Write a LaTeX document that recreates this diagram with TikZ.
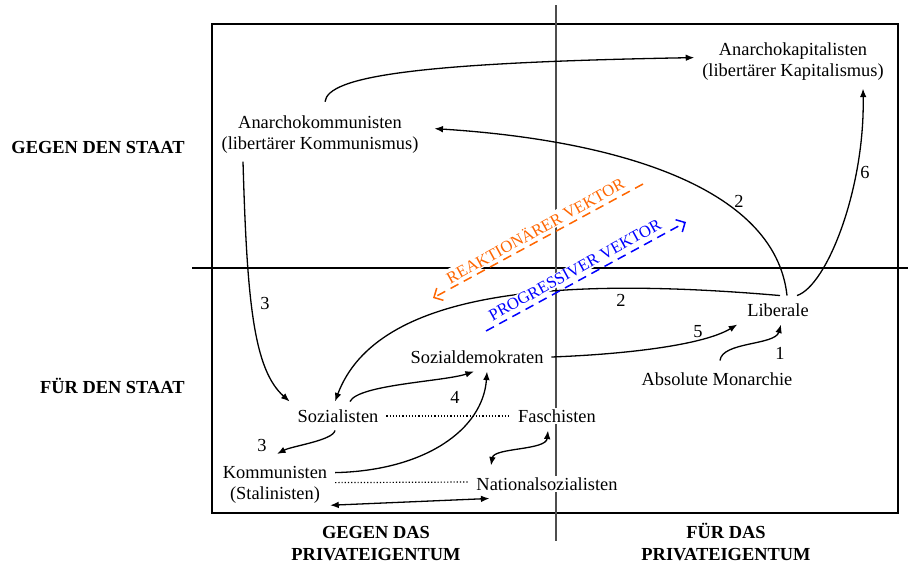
\documentclass[tikz,border=0pt]{standalone}
\usepackage{fontspec}
\setmainfont{Liberation Serif}
\usetikzlibrary{arrows.meta, calc}
\definecolor{cInk}{HTML}{000000}
\definecolor{cAxis}{HTML}{4D4D4D}
\definecolor{cReak}{HTML}{FF6600}
\definecolor{cProg}{HTML}{0000FF}
\pgfdeclarelayer{back}
\pgfsetlayers{back,main}
\newcommand{\pfont}{\fontsize{9.2}{10.6}\selectfont}
\tikzset{
  party/.style={font=\pfont, align=center, fill=white, inner sep=1pt, outer sep=3pt, text=cInk},
  axlab/.style={font=\pfont\bfseries, align=center, inner sep=1pt, text=cInk},
  num/.style={font=\pfont, inner sep=0pt, text=cInk},
  vlab/.style={font=\fontsize{8.3}{9}\selectfont, fill=white, inner sep=0.5pt},
  arr/.style={-{Latex[length=4.3pt, width=3.3pt]}, line width=0.65pt, draw=cInk},
  arrs/.style={{Latex[length=4.3pt, width=3.3pt]}-{Latex[length=4.3pt, width=3.3pt]}, line width=0.65pt, draw=cInk},
  link/.style={densely dotted, line width=0.6pt, draw=cInk},
  vec/.style={-{Straight Barb[length=3.5pt, width=7pt]}, dash pattern=on 4.5pt off 3pt, line width=0.75pt},
}

\begin{document}
\begin{tikzpicture}[x=0.5pt, y=-0.5pt]
  \useasboundingbox (0,0) rectangle (909,564);
  % ---- frame and axes
  \begin{pgfonlayer}{back}
    \draw[line width=0.55pt, draw=cInk] (212,24) rectangle (898,513);
    \draw[line width=0.55pt, draw=cInk] (192,268) -- (908,268);
    \draw[line width=0.7pt, draw=cAxis] (556,5) -- (556,541);
  \end{pgfonlayer}

  % ---- camps
  \node[party] (akap) at (793,61.6) {Anarchokapitalisten\\(libertärer Kapitalismus)};
  \node[party] (anko) at (320,134.6) {Anarchokommunisten\\(libertärer Kommunismus)};
  \node[party] (lib) at (778,310) {Liberale};
  \node[party] (mon) at (717,379) {Absolute Monarchie};
  \node[party] (sdem) at (477,357) {Sozialdemokraten};
  \node[party] (soz) at (338,416) {Sozialisten};
  \node[party] (fasch) at (557,416) {Faschisten};
  \node[party] (kom) at (275,484.6) {Kommunisten\\(Stalinisten)};
  \node[party] (nsoz) at (547,484) {Nationalsozialisten};

  % ---- axis titles
  \node[axlab, anchor=east] (gstaat) at (187,147) {GEGEN DEN STAAT};
  \node[axlab, anchor=east] (fstaat) at (187,386) {FÜR DEN STAAT};
  \node[axlab] (geigen) at (376,543.6) {GEGEN DAS\\PRIVATEIGENTUM};
  \node[axlab] (feigen) at (726,542) {FÜR DAS\\PRIVATEIGENTUM};

  % ---- moves between the camps
  \draw[arr] ([xshift=2.5pt, yshift=3pt]anko.north) .. controls +(3,-25) and +(-280,5) .. ([yshift=2pt]akap.west);
  \draw[arr] ([xshift=4.5pt]lib.north) .. controls +(-12,-111) and +(175,11) .. ([xshift=4pt, yshift=3pt]anko.east);
  \draw[arr] ([xshift=9.5pt]lib.north) .. controls +(30,-10) and +(2,100) .. ([xshift=35pt]akap.south);
  \draw[arr] ([xshift=1pt]lib.north) .. controls +(-220,-19) and +(42,-112) .. ([xshift=-1.5pt]soz.north);
  \draw[arr] ([xshift=-38.5pt]anko.south) .. controls +(4,140) and +(-36,-32) .. (soz.north west);
  \draw[arr] ([xshift=6pt]soz.north) .. controls +(8,-17) and +(-30,10) .. ([xshift=-1.5pt]sdem.south);
  \draw[arr] ([yshift=6pt]kom.east) .. controls +(90,-2) and +(-4,58) .. ([xshift=5pt]sdem.south);
  \draw[arr] ([xshift=-1.5pt]soz.south) .. controls +(-2,10) and +(15,-8) .. ([xshift=1pt, yshift=2pt]kom.north);
  \draw[arrs] ([xshift=-28pt, yshift=2pt]nsoz.north) .. controls +(3,-18) and +(-2,20) .. ([xshift=-4.5pt]fasch.south);
  \draw[arrs] ([xshift=-2.5pt, yshift=3pt]kom.south east) -- ([xshift=10.5pt]nsoz.south west);
  \draw[arr] (sdem.east) .. controls +(79,-3) and +(-33,20) .. ([xshift=-1pt]lib.south west);
  \draw[arr] ([xshift=1.5pt, yshift=2pt]mon.north) .. controls +(2,-19) and +(-6,21) .. ([xshift=1.5pt]lib.south);
  \draw[link] (soz) -- (fasch);
  \draw[link] ([yshift=1pt]kom.east) -- ([yshift=1pt]nsoz.west);

  % ---- step numbers
  \node[num] (n1) at (780,353) {1};
  \node[num] (n2a) at (739,201) {2};
  \node[num] (n2b) at (621,300) {2};
  \node[num] (n3a) at (265,303) {3};
  \node[num] (n3b) at (262,445) {3};
  \node[num] (n4) at (455,397) {4};
  \node[num] (n5) at (698,332) {5};
  \node[num] (n6) at (865,172) {6};

  % ---- vectors
  \coordinate (reakA) at (643,184);
  \coordinate (reakB) at (433,298);
  \coordinate (progA) at (486,331);
  \coordinate (progB) at (686,222);
  \draw[vec, draw=cReak] (reakA) -- (reakB);
  \draw[vec, draw=cProg] (progA) -- (progB);
  \node[vlab, text=cReak, rotate=28.8] (reaklab) at (535,230) {REAKTIONÄRER VEKTOR};
  \node[vlab, text=cProg, rotate=28.8] (proglab) at (575,270) {PROGRESSIVER VEKTOR};
\end{tikzpicture}
\end{document}
